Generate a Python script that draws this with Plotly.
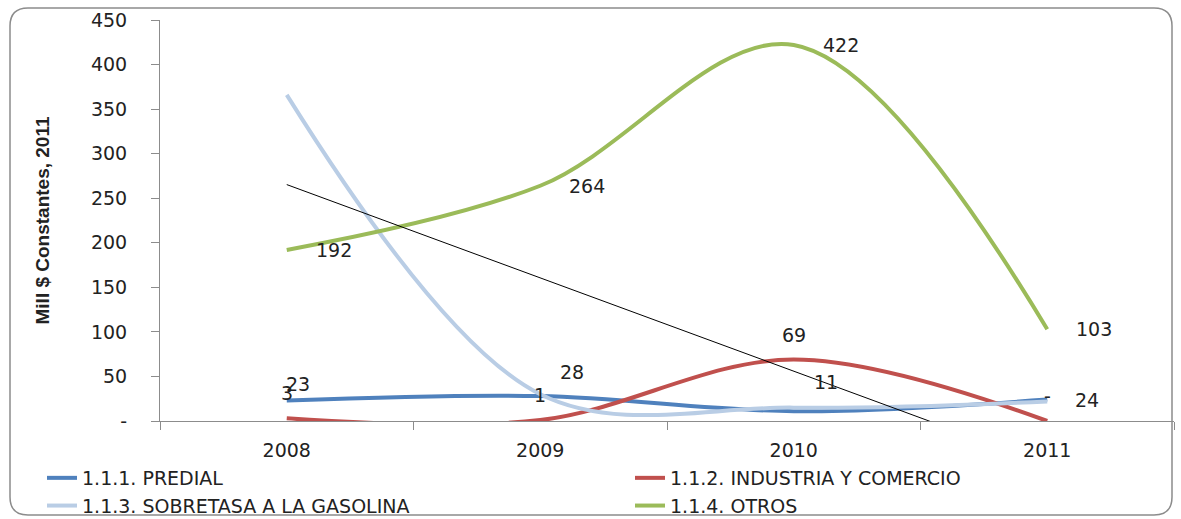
import numpy as np
import plotly.graph_objects as go

years = ["2008", "2009", "2010", "2011"]
predial = [23, 28, 11, 24]
industria = [3, 1, 69, 0]
sobretasa = [366, 30, 15, 22]
otros = [192, 264, 422, 103]
names = ["1.1.1. PREDIAL", "1.1.2. INDUSTRIA Y COMERCIO",
         "1.1.3. SOBRETASA A LA GASOLINA", "1.1.4. OTROS"]
colors = ["#4F81BD", "#C0504D", "#B9CDE5", "#9BBB59"]
legend_of = ["legend", "legend2", "legend", "legend2"]
yticks = [0, 50, 100, 150, 200, 250, 300, 350, 400, 450]

W, H = 1181, 519
L, R, T, B = 160, 7, 20, 98
pw, ph = W - L - R, H - T - B

fig = go.Figure()
for vals, nm, col, lg in zip([predial, industria, sobretasa, otros], names, colors, legend_of):
    fig.add_trace(go.Scatter(x=years, y=vals, name=nm, mode="lines", legend=lg,
                             line=dict(color=col, width=4, shape="spline", smoothing=1.0)))

# linear trend of SOBRETASA
xi = np.arange(len(years))
slope, icpt = np.polyfit(xi, sobretasa, 1)
fig.add_trace(go.Scatter(x=years, y=list(icpt + slope * xi), mode="lines",
                         line=dict(color="#000000", width=1), showlegend=False, hoverinfo="skip"))

lab_font = dict(family="DejaVu Sans", size=19, color="#222222")
def fmt(v):
    return "-" if v == 0 else str(v)

# OTROS labels: right
for i, v in enumerate(otros):
    fig.add_annotation(x=i, y=v, text=fmt(v), showarrow=False, xshift=47, font=lab_font)
# INDUSTRIA labels: above
for i, v in enumerate(industria):
    fig.add_annotation(x=i, y=v, text=fmt(v), showarrow=False, yshift=25, font=lab_font)
# PREDIAL labels
p_off = [(11, 17), (32, 24), (32, 29), (40, 0)]
for i, (v, (dx, dy)) in enumerate(zip(predial, p_off)):
    fig.add_annotation(x=i, y=v, text=fmt(v), showarrow=False, xshift=dx, yshift=dy, font=lab_font)

# rounded border
def px(p): return (p - L) / pw
def py(p): return (H - B - p) / ph
l, r, t, b, rad = 10, 1172, 8, 515, 18
path = (f"M {px(l+rad)},{py(t)} L {px(r-rad)},{py(t)} Q {px(r)},{py(t)} {px(r)},{py(t+rad)} "
        f"L {px(r)},{py(b-rad)} Q {px(r)},{py(b)} {px(r-rad)},{py(b)} "
        f"L {px(l+rad)},{py(b)} Q {px(l)},{py(b)} {px(l)},{py(b-rad)} "
        f"L {px(l)},{py(t+rad)} Q {px(l)},{py(t)} {px(l+rad)},{py(t)} Z")
fig.add_shape(type="path", path=path, xref="paper", yref="paper",
              line=dict(color="#8C8C8C", width=1.5))

leg_common = dict(orientation="v", xanchor="left", yanchor="top", tracegroupgap=0,
                  bgcolor="rgba(0,0,0,0)", font=dict(size=19, family="DejaVu Sans", color="#222222"))

fig.update_layout(
    width=W, height=H, margin=dict(l=L, r=R, t=T, b=B, autoexpand=False),
    plot_bgcolor="white", paper_bgcolor="white",
    font=dict(family="DejaVu Sans", size=19, color="#222222"),
    showlegend=True,
    legend=dict(x=px(42), y=py(459), **leg_common),
    legend2=dict(x=px(630), y=py(459), **leg_common),
    xaxis=dict(type="category", range=[-0.5, 3.5], showline=True, linecolor="#8C8C8C", linewidth=1,
               ticks="outside", tickson="boundaries", ticklen=8, tickcolor="#8C8C8C",
               showgrid=False, ticklabelstandoff=12, tickfont=dict(size=19, family="DejaVu Sans")),
    yaxis=dict(range=[0, 450], tickvals=yticks, ticktext=[fmt(v) for v in yticks],
               showline=True, linecolor="#8C8C8C", linewidth=1, ticks="outside", ticklen=8,
               tickcolor="#8C8C8C", showgrid=False, zeroline=False, ticklabelstandoff=20,
               tickfont=dict(size=19, family="DejaVu Sans"),
               title=dict(text="<b>Mill $ Constantes, 2011</b>", standoff=36,
                          font=dict(family="Liberation Sans Narrow, Arial Narrow, Liberation Sans", size=19))),
)

fig.write_html("out.html")
